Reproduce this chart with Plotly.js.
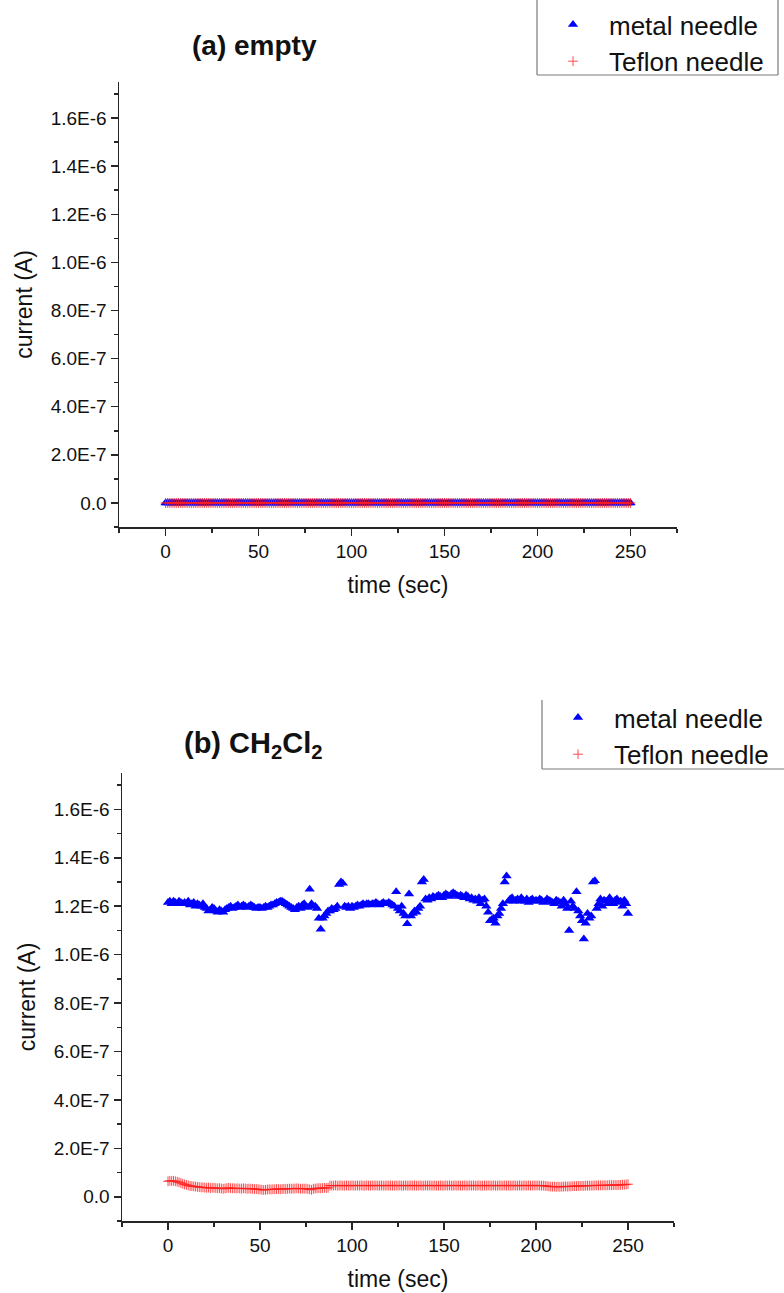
<!DOCTYPE html>
<html>
<head>
<meta charset="utf-8">
<script src="https://cdn.plot.ly/plotly-3.0.1.min.js"></script>
<style>
  html, body { margin: 0; padding: 0; background: #ffffff; }
  #chart { width: 784px; height: 1293px; }
</style>
</head>
<body>
<div id="chart"></div>
<script>
// ---- data (current values in microamperes, converted to A for plotting) ----
const timeSec = [
  0,1,2,3,4,5,6,7,8,9,10,11,12,13,14,15,16,17,18,19,20,21,22,23,24,25,26,27,28,29,
  30,31,32,33,34,35,36,37,38,39,40,41,42,43,44,45,46,47,48,49,50,51,52,53,54,55,56,57,58,59,
  60,61,62,63,64,65,66,67,68,69,70,71,72,73,74,75,76,77,78,79,80,81,82,83,84,85,86,87,88,89,
  90,91,92,93,94,95,96,97,98,99,100,101,102,103,104,105,106,107,108,109,110,111,112,113,114,115,116,117,118,119,
  120,121,122,123,124,125,126,127,128,129,130,131,132,133,134,135,136,137,138,139,140,141,142,143,144,145,146,147,148,149,
  150,151,152,153,154,155,156,157,158,159,160,161,162,163,164,165,166,167,168,169,170,171,172,173,174,175,176,177,178,179,
  180,181,182,183,184,185,186,187,188,189,190,191,192,193,194,195,196,197,198,199,200,201,202,203,204,205,206,207,208,209,
  210,211,212,213,214,215,216,217,218,219,220,221,222,223,224,225,226,227,228,229,230,231,232,233,234,235,236,237,238,239,
  240,241,242,243,244,245,246,247,248,249,250];

// (a) empty — both needles read as zero current
const emptyMetal_uA = [
  0,0,0,0,0,0,0,0,0,0,0,0,0,0,0,0,0,0,0,0,0,0,0,0,0,0,0,0,0,0,
  0,0,0,0,0,0,0,0,0,0,0,0,0,0,0,0,0,0,0,0,0,0,0,0,0,0,0,0,0,0,
  0,0,0,0,0,0,0,0,0,0,0,0,0,0,0,0,0,0,0,0,0,0,0,0,0,0,0,0,0,0,
  0,0,0,0,0,0,0,0,0,0,0,0,0,0,0,0,0,0,0,0,0,0,0,0,0,0,0,0,0,0,
  0,0,0,0,0,0,0,0,0,0,0,0,0,0,0,0,0,0,0,0,0,0,0,0,0,0,0,0,0,0,
  0,0,0,0,0,0,0,0,0,0,0,0,0,0,0,0,0,0,0,0,0,0,0,0,0,0,0,0,0,0,
  0,0,0,0,0,0,0,0,0,0,0,0,0,0,0,0,0,0,0,0,0,0,0,0,0,0,0,0,0,0,
  0,0,0,0,0,0,0,0,0,0,0,0,0,0,0,0,0,0,0,0,0,0,0,0,0,0,0,0,0,0,
  0,0,0,0,0,0,0,0,0,0,0];
const emptyTeflon_uA = [
  0,0,0,0,0,0,0,0,0,0,0,0,0,0,0,0,0,0,0,0,0,0,0,0,0,0,0,0,0,0,
  0,0,0,0,0,0,0,0,0,0,0,0,0,0,0,0,0,0,0,0,0,0,0,0,0,0,0,0,0,0,
  0,0,0,0,0,0,0,0,0,0,0,0,0,0,0,0,0,0,0,0,0,0,0,0,0,0,0,0,0,0,
  0,0,0,0,0,0,0,0,0,0,0,0,0,0,0,0,0,0,0,0,0,0,0,0,0,0,0,0,0,0,
  0,0,0,0,0,0,0,0,0,0,0,0,0,0,0,0,0,0,0,0,0,0,0,0,0,0,0,0,0,0,
  0,0,0,0,0,0,0,0,0,0,0,0,0,0,0,0,0,0,0,0,0,0,0,0,0,0,0,0,0,0,
  0,0,0,0,0,0,0,0,0,0,0,0,0,0,0,0,0,0,0,0,0,0,0,0,0,0,0,0,0,0,
  0,0,0,0,0,0,0,0,0,0,0,0,0,0,0,0,0,0,0,0,0,0,0,0,0,0,0,0,0,0,
  0,0,0,0,0,0,0,0,0,0,0];

// (b) CH2Cl2
const ch2cl2Metal_uA = [
  1.215,1.22,1.21,1.22,1.215,1.21,1.22,1.215,1.21,1.215,
  1.21,1.22,1.205,1.21,1.215,1.20,1.21,1.205,1.20,1.21,
  1.195,1.19,1.18,1.185,1.195,1.19,1.18,1.175,1.185,1.18,
  1.175,1.185,1.19,1.195,1.20,1.19,1.195,1.20,1.205,1.195,
  1.20,1.205,1.20,1.195,1.20,1.205,1.20,1.195,1.19,1.195,
  1.195,1.19,1.195,1.20,1.195,1.20,1.205,1.205,1.21,1.215,
  1.215,1.22,1.22,1.215,1.21,1.205,1.20,1.195,1.19,1.185,
  1.195,1.20,1.19,1.205,1.21,1.20,1.195,1.27,1.21,1.20,
  1.20,1.19,1.15,1.105,1.15,1.16,1.17,1.18,1.18,1.19,
  1.185,1.19,1.20,1.29,1.30,1.295,1.20,1.195,1.20,1.19,
  1.20,1.195,1.20,1.205,1.20,1.205,1.21,1.205,1.21,1.21,
  1.205,1.21,1.21,1.215,1.21,1.205,1.21,1.215,1.21,1.21,
  1.215,1.21,1.205,1.20,1.26,1.19,1.18,1.20,1.17,1.16,
  1.127,1.25,1.16,1.17,1.18,1.175,1.19,1.20,1.30,1.31,
  1.23,1.225,1.235,1.23,1.24,1.235,1.24,1.245,1.24,1.235,
  1.245,1.25,1.245,1.24,1.25,1.255,1.25,1.245,1.24,1.245,
  1.24,1.235,1.245,1.24,1.23,1.235,1.225,1.23,1.22,1.235,
  1.21,1.225,1.23,1.20,1.175,1.14,1.145,1.15,1.13,1.16,
  1.17,1.19,1.21,1.30,1.325,1.22,1.23,1.235,1.22,1.225,
  1.23,1.22,1.235,1.225,1.22,1.23,1.215,1.225,1.23,1.22,
  1.225,1.22,1.23,1.225,1.215,1.22,1.23,1.225,1.22,1.215,
  1.21,1.225,1.22,1.215,1.20,1.225,1.21,1.19,1.10,1.22,
  1.20,1.19,1.26,1.18,1.16,1.14,1.065,1.13,1.17,1.15,
  1.16,1.30,1.305,1.19,1.21,1.23,1.20,1.225,1.22,1.21,
  1.235,1.22,1.21,1.225,1.23,1.215,1.22,1.20,1.225,1.21,
  1.17];
const ch2cl2Teflon_uA = [
  0.064,0.066,0.065,0.066,0.064,0.062,0.060,0.057,0.054,0.051,
  0.049,0.047,0.045,0.044,0.043,0.042,0.041,0.040,0.039,0.039,
  0.038,0.037,0.038,0.036,0.037,0.037,0.036,0.035,0.036,0.034,
  0.033,0.034,0.036,0.037,0.036,0.035,0.035,0.034,0.035,0.034,
  0.034,0.035,0.034,0.033,0.034,0.033,0.033,0.032,0.032,0.031,
  0.030,0.029,0.028,0.029,0.030,0.031,0.030,0.031,0.031,0.032,
  0.032,0.031,0.032,0.033,0.032,0.033,0.034,0.033,0.034,0.034,
  0.035,0.034,0.033,0.034,0.033,0.034,0.032,0.031,0.029,0.033,
  0.034,0.035,0.036,0.035,0.036,0.037,0.036,0.037,0.046,0.046,
  0.046,0.047,0.046,0.046,0.047,0.046,0.046,0.047,0.046,0.046,
  0.047,0.046,0.046,0.047,0.046,0.047,0.046,0.046,0.047,0.046,
  0.046,0.047,0.046,0.047,0.046,0.046,0.047,0.046,0.046,0.047,
  0.046,0.047,0.046,0.046,0.047,0.046,0.047,0.046,0.046,0.047,
  0.046,0.046,0.047,0.046,0.047,0.046,0.046,0.047,0.046,0.046,
  0.047,0.046,0.047,0.046,0.046,0.047,0.046,0.046,0.047,0.046,
  0.046,0.047,0.046,0.047,0.046,0.046,0.047,0.046,0.047,0.046,
  0.046,0.047,0.046,0.046,0.047,0.046,0.047,0.046,0.046,0.047,
  0.046,0.046,0.047,0.046,0.047,0.046,0.046,0.047,0.046,0.046,
  0.047,0.046,0.046,0.047,0.046,0.047,0.046,0.046,0.047,0.046,
  0.046,0.047,0.046,0.046,0.047,0.046,0.047,0.046,0.046,0.047,
  0.046,0.047,0.046,0.046,0.046,0.045,0.044,0.043,0.042,0.042,
  0.042,0.041,0.042,0.041,0.042,0.042,0.043,0.042,0.043,0.043,
  0.044,0.044,0.044,0.045,0.045,0.045,0.045,0.046,0.046,0.046,
  0.046,0.046,0.047,0.047,0.047,0.047,0.047,0.048,0.047,0.048,
  0.048,0.048,0.048,0.049,0.048,0.049,0.049,0.050,0.050,0.051,
  0.052];

// tick labels
const yTickVals = [0, 2e-7, 4e-7, 6e-7, 8e-7, 1e-6, 1.2e-6, 1.4e-6, 1.6e-6];
const yTickText = ['0.0','2.0E-7','4.0E-7','6.0E-7','8.0E-7','1.0E-6','1.2E-6','1.4E-6','1.6E-6'];
const seriesNames = ['metal needle', 'Teflon needle'];
const panelTitles = ['<b>(a) empty</b>', '<b>(b) CH<sub>2</sub>Cl<sub>2</sub></b>'];

const toA = arr => arr.map(v => v * 1e-6);

// ---- styling ----
const W = 784, H = 1293;
const px = v => v / W;          // horizontal pixel -> paper
const py = v => (H - v) / H;    // vertical pixel (from top) -> paper
const FONT = 'Arial, "Liberation Sans", Helvetica, sans-serif';
const axisColor = '#262626';
const blue = 'rgb(0,0,255)';
const red = 'rgb(255,30,30)';

function metalTrace(y, xa, ya, leg) {
  return {
    type: 'scatter', mode: 'markers', name: seriesNames[0],
    x: timeSec, y: toA(y), xaxis: xa, yaxis: ya, legend: leg,
    marker: { symbol: 'triangle-up', size: 9, color: blue, line: { width: 0 } }
  };
}
function teflonTrace(y, xa, ya, leg) {
  return {
    type: 'scatter', mode: 'markers', name: seriesNames[1],
    x: timeSec, y: toA(y), xaxis: xa, yaxis: ya, legend: leg,
    marker: { symbol: 'cross-thin', size: 7, color: red, opacity: 0.8, line: { width: 1, color: red } }
  };
}

const data = [
  metalTrace(emptyMetal_uA, 'x', 'y', 'legend'),
  teflonTrace(emptyTeflon_uA, 'x', 'y', 'legend'),
  metalTrace(ch2cl2Metal_uA, 'x2', 'y2', 'legend2'),
  teflonTrace(ch2cl2Teflon_uA, 'x2', 'y2', 'legend2')
];

function xAxis(domainPx, anchor) {
  return {
    domain: [px(domainPx[0]), px(domainPx[1])], anchor: anchor,
    range: [-25, 275], tickmode: 'linear', tick0: 0, dtick: 50,
    ticks: 'outside', ticklen: 7, tickwidth: 1.5, tickcolor: axisColor,
    minor: { ticks: 'outside', dtick: 25, tick0: 0, ticklen: 4, tickwidth: 1.5, tickcolor: axisColor },
    showline: true, linecolor: axisColor, linewidth: 1.5, mirror: false,
    showgrid: false, zeroline: false,
    tickfont: { family: FONT, size: 19, color: '#111' },
    title: { text: 'time (sec)', font: { family: FONT, size: 23, color: '#111' }, standoff: 15 }
  };
}
function yAxis(topPx, bottomPx, anchor) {
  return {
    domain: [py(bottomPx), py(topPx)], anchor: anchor,
    range: [-1e-7, 1.75e-6], tickmode: 'array', tickvals: yTickVals, ticktext: yTickText,
    ticks: 'outside', ticklen: 7, tickwidth: 1.5, tickcolor: axisColor,
    minor: { ticks: 'outside', dtick: 1e-7, tick0: 0, ticklen: 4, tickwidth: 1.5, tickcolor: axisColor },
    showline: true, linecolor: axisColor, linewidth: 1.5, mirror: false,
    showgrid: false, zeroline: false,
    tickfont: { family: FONT, size: 19, color: '#111' },
    title: { text: 'current (A)', font: { family: FONT, size: 23, color: '#111' }, standoff: 11 }
  };
}

function legendAt(leftPx, topPx) {
  return {
    x: px(leftPx), xanchor: 'left', y: py(topPx), yanchor: 'top',
    bgcolor: 'rgba(255,255,255,0)', borderwidth: 0,
    font: { family: FONT, size: 26, color: '#111' },
    itemwidth: 62, tracegroupgap: 0
  };
}

const legBorder = '#7a7a7a';
function line(x0, y0, x1, y1) {
  return { type: 'line', xref: 'paper', yref: 'paper', x0: px(x0), y0: py(y0), x1: px(x1), y1: py(y1),
           line: { color: legBorder, width: 1.2 } };
}

const layout = {
  width: W, height: H,
  margin: { l: 0, r: 0, t: 0, b: 0, autoexpand: false },
  paper_bgcolor: '#ffffff', plot_bgcolor: '#ffffff',
  font: { family: FONT, color: '#111' },
  xaxis: xAxis([119, 677], 'y'),
  yaxis: yAxis(82, 527, 'x'),
  xaxis2: xAxis([122, 674], 'y2'),
  yaxis2: yAxis(773, 1221, 'x2'),
  legend: legendAt(537, 1),
  legend2: legendAt(542, 694),
  shapes: [
    line(537, 0, 537, 75), line(537, 75, 778, 75), line(778, 0, 778, 75),
    line(542, 700, 542, 769), line(542, 769, 784, 769)
  ],
  annotations: [
    { text: panelTitles[0], xref: 'paper', yref: 'paper', x: px(254), y: py(45),
      xanchor: 'center', yanchor: 'middle', showarrow: false, font: { family: FONT, size: 28, color: '#111' } },
    { text: panelTitles[1], xref: 'paper', yref: 'paper', x: px(253), y: py(745),
      xanchor: 'center', yanchor: 'middle', showarrow: false, font: { family: FONT, size: 29, color: '#111' } }
  ]
};

Plotly.newPlot('chart', data, layout, { displayModeBar: false, staticPlot: true });
</script>
</body>
</html>
